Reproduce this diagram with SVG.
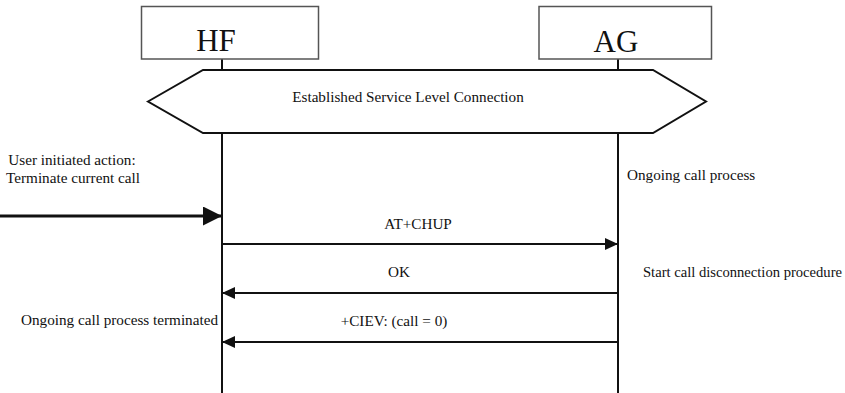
<svg xmlns="http://www.w3.org/2000/svg" width="845" height="393" viewBox="0 0 845 393">
<style>
  .box{fill:#fff;stroke:#555;stroke-width:1.5}
  .life{stroke:#111;stroke-width:2;fill:none}
  .msg{stroke:#111;stroke-width:2;fill:none}
  .big{font-family:"Liberation Serif","Times New Roman",serif;font-size:31px;fill:#111;text-anchor:middle}
  .t{font-family:"Liberation Serif","Times New Roman",serif;font-size:15.2px;fill:#111}
  .c{text-anchor:middle}
</style>
<defs>
  <marker id="ah" viewBox="0 0 13 12" refX="13" refY="6" markerWidth="13" markerHeight="12" markerUnits="userSpaceOnUse" orient="auto">
    <path d="M0,0 L13,6 L0,12 Z" fill="#111"/>
  </marker>
  <marker id="ahBig" viewBox="0 0 19 19" refX="19" refY="9.5" markerWidth="19" markerHeight="19" markerUnits="userSpaceOnUse" orient="auto">
    <path d="M0,0 L19,9.5 L0,19 Z" fill="#111"/>
  </marker>
</defs>
<g id="lifelines">
  <line class="life" x1="222" y1="59" x2="222" y2="70"/>
  <line class="life" x1="222" y1="133" x2="222" y2="393"/>
  <line class="life" x1="618" y1="59" x2="618" y2="70"/>
  <line class="life" x1="618" y1="133" x2="618" y2="393"/>
</g>
<g id="HF">
  <rect class="box" x="141.5" y="6.5" width="177" height="52.5"/>
  <text class="big" x="216" y="51">HF</text>
</g>
<g id="AG">
  <rect class="box" x="539" y="6.5" width="172.5" height="52.5"/>
  <text class="big" x="616" y="52">AG</text>
</g>
<g id="slc">
  <polygon points="148,101.5 203,70 653,70 706,101.5 653,133 203,133" fill="#fff" stroke="#111" stroke-width="2"/>
  <text class="t c" x="408" y="102">Established Service Level Connection</text>
</g>
<g id="connectors">
  <line x1="0" y1="216" x2="222" y2="216" stroke="#111" stroke-width="3" marker-end="url(#ahBig)"/>
  <line class="msg" x1="222" y1="244" x2="618" y2="244" marker-end="url(#ah)"/>
  <line class="msg" x1="618" y1="293" x2="222" y2="293" marker-end="url(#ah)"/>
  <line class="msg" x1="618" y1="342" x2="222" y2="342" marker-end="url(#ah)"/>
</g>
<g id="labels">
  <text class="t c" x="72" y="165">User initiated action:</text>
  <text class="t c" x="73" y="183">Terminate current call</text>
  <text class="t" x="627" y="180">Ongoing call process</text>
  <text class="t c" x="418" y="229">AT+CHUP</text>
  <text class="t c" x="399" y="277">OK</text>
  <text class="t" x="643" y="277" style="font-size:14.6px">Start call disconnection procedure</text>
  <text class="t" x="218" y="325" text-anchor="end">Ongoing call process terminated</text>
  <text class="t c" x="394" y="326">+CIEV: (call = 0)</text>
</g>
</svg>
